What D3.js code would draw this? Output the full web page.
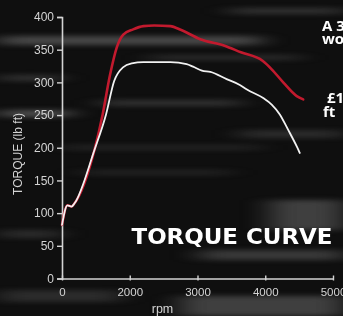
<!DOCTYPE html>
<html>
<head>
<meta charset="utf-8">
<script src="https://cdn.jsdelivr.net/npm/d3@7"></script>
<style>
  html, body { margin: 0; padding: 0; background: #111; overflow: hidden; }
  svg { display: block; }
</style>
</head>
<body>
<svg id="chart" width="343" height="316"></svg>
<script>
// ---- data ----
// The source axis puts "0" where 1000 rpm would sit (equal spacing of all labels).
const redRpm    = [1000, 1080, 1140, 1185, 1480, 1600, 1710, 1810, 1905, 2050, 2200, 2360, 2600, 2760, 3040, 3400, 3640, 3960, 4095, 4265, 4465, 4560];
const redTorque = [82, 112, 110, 115, 197, 251, 312, 354, 373, 381, 386, 387, 386, 380, 366, 356, 346, 333, 320, 300, 279, 274];
const whiteRpm    = [1000, 1080, 1140, 1185, 1480, 1650, 1770, 1900, 2030, 2200, 2600, 2840, 2935, 3065, 3190, 3430, 3625, 3730, 3970, 4095, 4215, 4335, 4465, 4510];
const whiteTorque = [82, 112, 110, 115, 197, 251, 302, 323, 329, 331, 331, 328, 324, 318, 316, 305, 296, 289, 276, 266, 251, 228, 202, 192];
const yTicks = [0, 50, 100, 150, 200, 250, 300, 350, 400];
const xTicks = [1000, 2000, 3000, 4000, 5000];
const xTickLabels = ["0", "2000", "3000", "4000", "5000"];
const yTitle = "TORQUE (lb ft)";
const xTitle = "rpm";
const chartTitle = "TORQUE CURVE";
const sideText = [["A 3", "wo"], ["£1", "ft"]];

const svg = d3.select("#chart");

// ---- background (decorative streaks) ----
const defs = svg.append("defs");
defs.append("filter").attr("id", "blur").attr("x", "-50%").attr("y", "-200%").attr("width", "200%").attr("height", "500%")
  .append("feGaussianBlur").attr("stdDeviation", "14 2.5");
svg.append("rect").attr("width", 343).attr("height", 316).attr("fill", "#0f0f0f");
const streaks = [
  [0, 36, 260, 9, 0.4], [230, 8, 113, 6, 0.25], [0, 110, 70, 7, 0.45], [100, 100, 140, 6, 0.25],
  [0, 75, 60, 6, 0.25], [60, 145, 200, 5, 0.15], [150, 55, 150, 5, 0.2], [270, 200, 73, 30, 0.35],
  [200, 250, 143, 10, 0.3], [180, 296, 163, 20, 0.35], [0, 290, 120, 12, 0.2], [80, 170, 150, 5, 0.15],
  [0, 230, 60, 8, 0.2], [240, 130, 103, 8, 0.2]
];
svg.append("g").attr("filter", "url(#blur)")
  .selectAll("rect").data(streaks).join("rect")
  .attr("x", d => d[0]).attr("y", d => d[1]).attr("width", d => d[2]).attr("height", d => d[3])
  .attr("fill", "#9a9a9a").attr("opacity", d => d[4]);

// ---- scales ----
const x = d3.scaleLinear().domain([1000, 5000]).range([62, 333]);
const y = d3.scaleLinear().domain([0, 400]).range([278.5, 17]);

const axisColor = "#d4d4d4";
const font = "'Liberation Sans', Arial, sans-serif";

// y axis
const gy = svg.append("g").attr("transform", `translate(${x(1000)},0)`)
  .call(d3.axisLeft(y).tickValues(yTicks).tickSize(5).tickPadding(3).tickFormat(d3.format("d")));
gy.select(".domain").attr("stroke", axisColor).attr("stroke-width", 1.6);
gy.selectAll(".tick line").attr("stroke", axisColor).attr("stroke-width", 1.4);
gy.selectAll(".tick text").attr("fill", axisColor).attr("font-size", 12).attr("font-family", font);

// x axis
const gx = svg.append("g").attr("transform", `translate(0,${y(0)})`)
  .call(d3.axisBottom(x).tickValues(xTicks).tickSizeInner(-3).tickSizeOuter(0).tickPadding(9)
    .tickFormat((d, i) => xTickLabels[i]));
gx.select(".domain").attr("stroke", axisColor).attr("stroke-width", 1.6);
gx.selectAll(".tick line").attr("stroke", axisColor).attr("stroke-width", 1.4).attr("y2", 2).attr("y1", -3);
gx.selectAll(".tick text").attr("fill", axisColor).attr("font-size", 11.5).attr("font-family", font);

// axis titles
svg.append("text").attr("transform", "translate(22,154) rotate(-90)")
  .attr("text-anchor", "middle").attr("fill", axisColor).attr("font-size", 12.5).attr("font-family", font)
  .attr("textLength", 82).attr("lengthAdjust", "spacingAndGlyphs").text(yTitle);
svg.append("text").attr("x", 162.5).attr("y", 313).attr("text-anchor", "middle")
  .attr("fill", axisColor).attr("font-size", 12.5).attr("font-family", font).text(xTitle);

// ---- lines ----
const line = d3.line().x(d => x(d[0])).y(d => y(d[1])).curve(d3.curveMonotoneX);
const redData = redRpm.map((r, i) => [r, redTorque[i]]);
const whiteData = whiteRpm.map((r, i) => [r, whiteTorque[i]]);
svg.append("path").datum(redData).attr("d", line).attr("fill", "none")
  .attr("stroke", "#c21a2e").attr("stroke-width", 2.6).attr("stroke-linejoin", "round").attr("stroke-linecap", "round");
svg.append("path").datum(whiteData).attr("d", line).attr("fill", "none")
  .attr("stroke", "#f2f2f2").attr("stroke-width", 1.8).attr("stroke-linejoin", "round").attr("stroke-linecap", "round");

// ---- title ----
svg.append("text").attr("x", 131.5).attr("y", 243.5)
  .attr("fill", "#ffffff").attr("font-size", 22).attr("font-weight", 900)
  .attr("font-family", "'DejaVu Sans', sans-serif")
  .attr("textLength", 201).attr("lengthAdjust", "spacingAndGlyphs").text(chartTitle);

// ---- cut-off side text ----
const sideX = [[322, 322], [327, 323]];
const sideY = [[31, 44], [103, 117]];
sideText.forEach((lines, i) => {
  lines.forEach((t, j) => {
    svg.append("text").attr("x", sideX[i][j]).attr("y", sideY[i][j])
      .attr("fill", "#ffffff").attr("font-size", 15).attr("font-weight", 700)
      .attr("font-family", "'Open Sans', sans-serif").text(t);
  });
});
</script>
</body>
</html>
